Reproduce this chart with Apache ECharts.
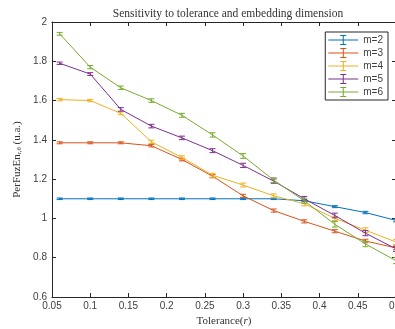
<!doctype html>
<html>
<head>
<meta charset="utf-8">
<title>Sensitivity to tolerance</title>
<script src="https://cdn.jsdelivr.net/npm/echarts@6/dist/echarts.min.js"></script>
<style>
  html, body { margin: 0; padding: 0; background: #fff; }
  #main { width: 395px; height: 329px; }
</style>
</head>
<body>
<div id="main"></div>
<script>
// tolerance r values
var tol = [0.06, 0.10, 0.14, 0.18, 0.22, 0.26, 0.30, 0.34, 0.38, 0.42, 0.46, 0.50];

// PerFuzEn for each embedding dimension m
var m2 = [1.10, 1.10, 1.10, 1.10, 1.10, 1.10, 1.10, 1.10, 1.09, 1.06, 1.03, 0.99];
var m3 = [1.385, 1.385, 1.385, 1.37, 1.30, 1.215, 1.115, 1.04, 0.985, 0.935, 0.885, 0.85];
var m4 = [1.605, 1.60, 1.535, 1.39, 1.31, 1.22, 1.17, 1.115, 1.075, 1.00, 0.94, 0.88];
var m5 = [1.79, 1.735, 1.555, 1.47, 1.41, 1.345, 1.27, 1.19, 1.10, 1.015, 0.925, 0.845];
var m6 = [1.94, 1.77, 1.665, 1.60, 1.525, 1.425, 1.318, 1.195, 1.09, 0.97, 0.87, 0.785];

// error bar half-lengths
var e2 = [0.004, 0.004, 0.004, 0.004, 0.004, 0.004, 0.004, 0.004, 0.005, 0.005, 0.006, 0.007];
var e3 = [0.005, 0.005, 0.005, 0.006, 0.007, 0.008, 0.008, 0.008, 0.008, 0.008, 0.009, 0.009];
var e4 = [0.006, 0.006, 0.007, 0.008, 0.009, 0.010, 0.010, 0.010, 0.011, 0.011, 0.012, 0.012];
var e5 = [0.006, 0.007, 0.009, 0.009, 0.009, 0.010, 0.011, 0.011, 0.012, 0.012, 0.013, 0.013];
var e6 = [0.007, 0.008, 0.009, 0.009, 0.010, 0.011, 0.012, 0.012, 0.013, 0.014, 0.014, 0.015];

var names = ['m=2', 'm=3', 'm=4', 'm=5', 'm=6'];
var values = [m2, m3, m4, m5, m6];
var errors = [e2, e3, e4, e5, e6];
var colors = ['#0072BD', '#D95319', '#EDB120', '#7E2F8E', '#77AC30'];

var xTicks = [0.05, 0.5, 0.05];   // min, max, step
var yTicks = [0.6, 2, 0.2];

var axisCol = '#262626';

function fmt(v) {
  return String(parseFloat(v.toFixed(2)));
}

var series = [];
values.forEach(function(vals, k) {
  var pts = tol.map(function(t, i) { return [t, vals[i], errors[k][i]]; });
  series.push({
    name: names[k],
    type: 'line',
    data: pts,
    symbol: 'none',
    lineStyle: { color: colors[k], width: 1 },
    itemStyle: { color: colors[k] },
    z: 2 + k,
    animation: false
  });
  series.push({
    name: names[k],
    type: 'custom',
    data: pts,
    z: 3 + k,
    animation: false,
    renderItem: function(params, api) {
      var x = api.value(0), y = api.value(1), e = api.value(2);
      var hi = api.coord([x, y + e]);
      var lo = api.coord([x, y - e]);
      var w = 3;
      var st = { stroke: colors[k], lineWidth: 1, fill: null };
      return {
        type: 'group',
        children: [
          { type: 'line', shape: { x1: hi[0], y1: hi[1], x2: lo[0], y2: lo[1] }, style: st },
          { type: 'line', shape: { x1: hi[0] - w, y1: hi[1], x2: hi[0] + w, y2: hi[1] }, style: st },
          { type: 'line', shape: { x1: lo[0] - w, y1: lo[1], x2: lo[0] + w, y2: lo[1] }, style: st }
        ]
      };
    }
  });
});

var errIcon = 'path://M0,4.5h30v1h-30zM14.5,0h1v10h-1zM12,0h6v1h-6zM12,9h6v1h-6z';

var chart = echarts.init(document.getElementById('main'));
chart.setOption({
  animation: false,
  backgroundColor: '#fff',
  title: {
    text: 'Sensitivity to tolerance and embedding dimension',
    left: 223,
    textAlign: 'center',
    top: 3,
    textStyle: { fontFamily: 'Liberation Serif', fontSize: 11.5, fontWeight: 'normal', color: '#333' }
  },
  grid: { left: 52, right: -1, top: 22, bottom: 32, outerBoundsMode: 'none' },
  legend: {
    data: names,
    orient: 'vertical',
    right: 7,
    top: 32,
    icon: errIcon,
    itemWidth: 30,
    itemHeight: 10,
    itemGap: 3,
    padding: [3, 5, 3, 3],
    borderColor: axisCol,
    borderWidth: 1,
    backgroundColor: '#fff',
    borderRadius: 0,
    textStyle: { fontFamily: 'Liberation Sans', fontSize: 10, color: '#404040' }
  },
  xAxis: [{
    type: 'value',
    min: xTicks[0], max: xTicks[1], interval: xTicks[2],
    name: '{a|Tolerance(}{i|r}{a|)}',
    nameLocation: 'middle',
    nameGap: 18,
    nameTextStyle: {
      rich: {
        a: { fontFamily: 'Liberation Serif', fontSize: 11, color: '#333' },
        i: { fontFamily: 'Liberation Serif', fontSize: 11, fontStyle: 'italic', color: '#333' }
      }
    },
    axisLine: { lineStyle: { color: axisCol, width: 1 } },
    axisTick: { inside: true, length: 4, lineStyle: { color: axisCol } },
    axisLabel: { formatter: fmt, fontFamily: 'Liberation Sans', fontSize: 10, color: '#404040', margin: 4 },
    splitLine: { show: false }
  }, {
    type: 'value', position: 'top',
    min: xTicks[0], max: xTicks[1], interval: xTicks[2],
    axisLine: { lineStyle: { color: axisCol, width: 1 } },
    axisTick: { inside: true, length: 4, lineStyle: { color: axisCol } },
    axisLabel: { show: false },
    splitLine: { show: false }
  }],
  yAxis: [{
    type: 'value',
    min: yTicks[0], max: yTicks[1], interval: yTicks[2],
    name: '{a|PerFuzEn}{s|r,θ}{a| (u.a.)}',
    nameLocation: 'middle',
    nameGap: 24,
    nameTextStyle: {
      rich: {
        a: { fontFamily: 'Liberation Serif', fontSize: 11, color: '#333' },
        s: { fontFamily: 'Liberation Serif', fontSize: 7, color: '#333', verticalAlign: 'bottom', padding: [4, 0, 0, 0] }
      }
    },
    axisLine: { lineStyle: { color: axisCol, width: 1 } },
    axisTick: { inside: true, length: 4, lineStyle: { color: axisCol } },
    axisLabel: { formatter: fmt, fontFamily: 'Liberation Sans', fontSize: 10, color: '#404040', margin: 5 },
    splitLine: { show: false }
  }, {
    type: 'value', position: 'right',
    min: yTicks[0], max: yTicks[1], interval: yTicks[2],
    axisLine: { lineStyle: { color: axisCol, width: 1 } },
    axisTick: { inside: true, length: 4, lineStyle: { color: axisCol } },
    axisLabel: { show: false },
    splitLine: { show: false }
  }],
  series: series
});
</script>
</body>
</html>
